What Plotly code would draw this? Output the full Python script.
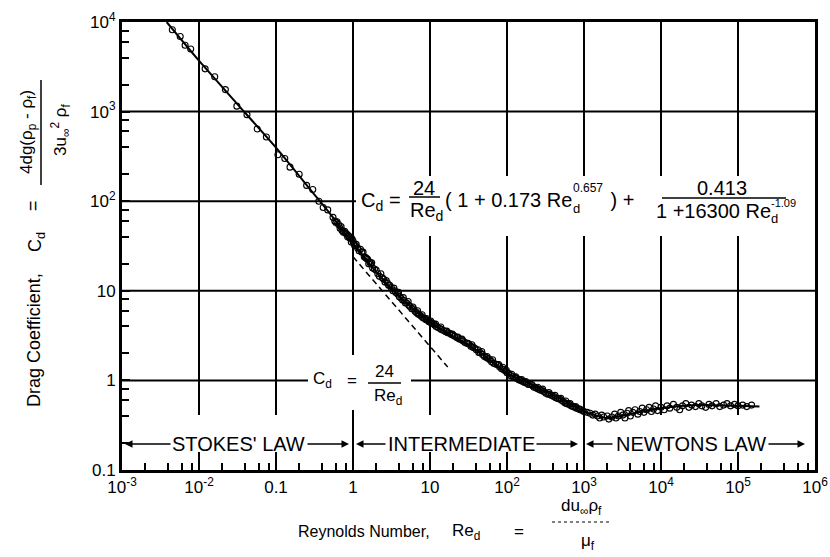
import plotly.graph_objects as go

# ---- correlation curve (Re_d, C_d) ----
curve_re = [0.0038, 0.01, 0.03, 0.1, 0.3, 0.5, 0.7, 1, 2, 3, 5, 10, 20, 30, 50,
            100, 200, 500, 1000, 2000, 4000, 10000, 30000, 100000, 190000]
curve_cd = [10000, 3700, 1270, 396, 125, 73, 50, 34, 16.3, 11.1, 7.2, 4.5, 3.1, 2.55, 1.9,
            1.2, 0.91, 0.62, 0.45, 0.38, 0.42, 0.49, 0.53, 0.52, 0.51]

# ---- Stokes' law line, C_d = 24 / Re_d ----
stokes_re = [1.0, 17.0]
stokes_cd = [24.0, 1.41]

# ---- experimental points ----
stokes_pts_re = [0.0045, 0.0057, 0.0066, 0.0078, 0.012, 0.016, 0.022, 0.031, 0.042, 0.057,
                 0.075, 0.106, 0.13, 0.152, 0.2, 0.25, 0.3, 0.36, 0.41, 0.47]
stokes_pts_cd = [8200, 6900, 5500, 5000, 3000, 2450, 1760, 1150, 925, 640,
                 520, 330, 300, 240, 200, 150, 135, 100, 85, 80]

inter_re_a = [0.55, 0.6, 0.65, 0.7, 0.75, 0.8, 0.85, 0.9, 0.95, 1.0, 1.05, 1.1, 1.2, 1.3, 1.4,
              1.5, 1.6, 1.7, 1.8, 2.0, 2.2, 2.4, 2.6, 2.8, 3.0, 3.3, 3.6, 4.0, 4.4, 4.8,
              5.3, 5.8, 6.4, 7.0, 7.7, 8.5, 9.3, 10, 11, 12, 13.5, 15, 17, 19, 21,
              24, 27, 30, 34, 38, 43, 48, 54, 60, 67, 75, 85, 95, 105, 120,
              135, 150, 170, 190, 215, 240, 270, 300, 340, 380, 430, 480, 540, 600, 680,
              760, 850, 950]
inter_cd_a = [66, 58, 55, 52, 45, 44, 40, 39, 35, 36, 32, 33, 28, 27, 24,
              23, 20, 20, 18, 17, 14.5, 14, 12.5, 12.2, 11.5, 10, 9.6, 8.6, 7.9, 7.3,
              6.9, 6.3, 5.9, 5.5, 5.2, 4.9, 4.7, 4.5, 4.3, 4.0, 3.8, 3.6, 3.4, 3.25, 3.1,
              2.9, 2.75, 2.6, 2.4, 2.3, 2.05, 1.95, 1.8, 1.7, 1.55, 1.5, 1.35, 1.28, 1.2, 1.1,
              1.05, 1.0, 0.95, 0.9, 0.87, 0.82, 0.78, 0.75, 0.7, 0.68, 0.64, 0.62, 0.58, 0.55, 0.52,
              0.5, 0.48, 0.46]

inter_re_b = [0.58, 0.68, 0.78, 0.88, 1.02, 1.15, 1.25, 1.45, 1.65, 1.9, 2.1, 2.5, 2.9, 3.15, 3.5,
              3.8, 4.2, 4.6, 5.0, 5.5, 6.1, 6.7, 7.3, 8.1, 8.9, 9.7, 10.5, 11.5, 12.7, 14,
              16, 18, 20, 22.5, 25.5, 28.5, 32, 36, 40, 45, 51, 57, 63, 71, 80,
              90, 100, 112, 127, 142, 160, 180, 200, 225, 255, 285, 320, 360, 405, 455,
              510, 570, 640, 720, 800, 900, 1000]
inter_cd_b = [60, 50, 46, 41, 34, 30, 29, 23.5, 21, 17.5, 15.5, 13.5, 11.5, 10.8, 10,
              9.2, 8.3, 7.8, 7.3, 6.7, 6.3, 5.7, 5.4, 5.0, 4.75, 4.5, 4.35, 4.15, 3.9, 3.7,
              3.5, 3.35, 3.2, 3.0, 2.85, 2.65, 2.55, 2.35, 2.2, 2.05, 1.85, 1.75, 1.62, 1.52, 1.42,
              1.32, 1.22, 1.13, 1.08, 1.02, 0.97, 0.93, 0.9, 0.84, 0.8, 0.77, 0.72, 0.7, 0.66, 0.63,
              0.6, 0.56, 0.54, 0.51, 0.49, 0.47, 0.45]

inter_re_c = [0.62, 0.72, 0.83, 0.97, 1.08, 1.35, 1.55, 1.75, 2.3, 2.7, 3.4, 3.9, 4.5, 5.2, 6.0,
              6.9, 7.9, 9.0, 10.2, 11.8, 13.8, 16.5, 19.5, 23, 26, 31, 35, 42, 47, 55,
              65, 78, 88, 98, 115, 130, 155, 175, 210, 250, 290, 350, 420, 500, 580,
              660, 780, 880]
inter_cd_c = [59, 47, 43, 38, 32, 27, 22.5, 20.5, 15.5, 13, 10.7, 9.6, 8.4, 7.6, 6.6,
              6.0, 5.4, 4.9, 4.6, 4.25, 3.95, 3.55, 3.3, 3.05, 2.9, 2.6, 2.5, 2.2, 2.1, 1.85,
              1.7, 1.5, 1.4, 1.3, 1.17, 1.1, 1.02, 0.97, 0.9, 0.84, 0.8, 0.73, 0.68, 0.63, 0.59,
              0.55, 0.51, 0.48]

newton_re = [1100, 1200, 1300, 1400, 1500, 1600, 1700, 1800, 2000, 2100, 2300, 2500, 2600, 2800,
             3000, 3200, 3400, 3600, 3800, 4000, 4300, 4600, 5000, 5300, 5700, 6000, 6500, 7000,
             7500, 8000, 8500, 9000, 10000, 11000, 12000, 13000, 14500, 16000, 17500, 19000,
             21000, 23000, 25000, 28000, 31000, 34000, 38000, 42000, 46000, 52000, 58000,
             65000, 72000, 80000, 90000, 100000, 115000, 130000, 150000]
newton_cd = [0.44, 0.43, 0.41, 0.42, 0.40, 0.38, 0.41, 0.39, 0.40, 0.37, 0.39, 0.42, 0.38, 0.40,
             0.44, 0.41, 0.38, 0.43, 0.46, 0.40, 0.44, 0.47, 0.42, 0.45, 0.49, 0.44, 0.47, 0.50,
             0.45, 0.48, 0.52, 0.46, 0.50, 0.47, 0.52, 0.49, 0.54, 0.50, 0.47, 0.52,
             0.55, 0.50, 0.53, 0.51, 0.55, 0.52, 0.50, 0.54, 0.52, 0.55, 0.51,
             0.53, 0.55, 0.52, 0.54, 0.52, 0.53, 0.51, 0.53]

# ---- axis ticks ----
x_major = [1e-3, 1e-2, 1e-1, 1, 10, 1e2, 1e3, 1e4, 1e5, 1e6]
x_labels = ["10<sup>-3</sup>", "10<sup>-2</sup>", "0.1", "1", "10", "10<sup>2</sup>",
            "10<sup>3</sup>", "10<sup>4</sup>", "10<sup>5</sup>", "10<sup>6</sup>"]
y_major = [0.1, 1, 10, 1e2, 1e3, 1e4]
y_labels = ["0.1", "1", "10", "10<sup>2</sup>", "10<sup>3</sup>", "10<sup>4</sup>"]

region_names = ["STOKES' LAW", "INTERMEDIATE", "NEWTONS LAW"]

FONT = "Arial, Liberation Sans, sans-serif"
NB = "\u00a0"

# plot-area geometry in pixels (used to place the free-standing text)
L, R, T, B = 122, 815, 22, 470


def px(x):
    return (x - L) / (R - L)


def py(y):
    return (B - y) / (B - T)


fig = go.Figure()

pts_re = stokes_pts_re + inter_re_a + inter_re_b + inter_re_c + newton_re
pts_cd = stokes_pts_cd + inter_cd_a + inter_cd_b + inter_cd_c + newton_cd
fig.add_trace(go.Scatter(x=pts_re, y=pts_cd, mode="markers",
                         marker=dict(symbol="circle-open", size=6, color="black",
                                     line=dict(width=1.1, color="black")),
                         hoverinfo="skip"))
fig.add_trace(go.Scatter(x=curve_re, y=curve_cd, mode="lines",
                         line=dict(color="black", width=2, shape="spline", smoothing=0.6)))
fig.add_trace(go.Scatter(x=stokes_re, y=stokes_cd, mode="lines",
                         line=dict(color="black", width=1.5, dash="6px,4px")))

shapes = []
# decade grid, drawn as shapes so the text panels can sit on top of it
for xv in x_major[1:-1]:
    shapes.append(dict(type="line", xref="x", yref="paper", x0=xv, x1=xv, y0=0, y1=1,
                       line=dict(color="black", width=2), layer="below"))
for yv in y_major[1:-1]:
    shapes.append(dict(type="line", xref="paper", yref="y", x0=0, x1=1, y0=yv, y1=yv,
                       line=dict(color="black", width=2), layer="below"))
# white panels behind the equations and the regime band
for x0, x1, y0, y1 in ((px(356), 1, py(236), py(176)),
                       (px(308), px(411), py(410), py(355)),
                       (0, 1, py(452), py(415))):
    shapes.append(dict(type="rect", xref="paper", yref="paper", x0=x0, x1=x1, y0=y0, y1=y1,
                       fillcolor="white", line=dict(width=0), layer="below"))
# regime dividers at Re = 1 and Re = 1000
for xv in (1, 1000):
    shapes.append(dict(type="line", xref="x", yref="paper", x0=xv, x1=xv, y0=py(453), y1=py(414),
                       line=dict(color="black", width=2), layer="below"))
# fraction bars
frac_bars = [(409, 440, 197), (662, 786, 198), (368, 401, 383)]
for x0, x1, yy in frac_bars:
    shapes.append(dict(type="line", xref="paper", yref="paper", x0=px(x0), x1=px(x1), y0=py(yy), y1=py(yy),
                       line=dict(color="black", width=1.5)))
shapes.append(dict(type="line", xref="paper", yref="paper", x0=px(41), x1=px(41), y0=py(185), y1=py(80),
                   line=dict(color="black", width=1.5)))
shapes.append(dict(type="line", xref="paper", yref="paper", x0=px(552), x1=px(612), y0=py(522), y1=py(522),
                   line=dict(color="black", width=1, dash="dot")))
fig.update_layout(shapes=shapes)

ann = []


def txt(x, y, s, size, xanchor="center", angle=0):
    ann.append(dict(x=px(x), y=py(y), xref="paper", yref="paper", text=s, showarrow=False,
                    xanchor=xanchor, yanchor="middle", textangle=angle,
                    font=dict(family=FONT, size=size, color="black")))


# main correlation
txt(372, 201, "C<sub>d</sub>", 20)
txt(395, 200, "=", 20)
txt(424, 188, "24", 20)
txt(426, 211, "Re<sub>d</sub>", 20)
txt(443, 200, "(" + NB + "1 + 0.173 Re", 20, xanchor="left")
txt(571, 208, "d", 13, xanchor="left")
txt(571, 188, "0.657", 12, xanchor="left")
txt(603, 200, NB + ")" + NB + "+", 20, xanchor="left")
txt(722, 188, "0.413", 20)
txt(654, 211, "1 +16300 Re", 20, xanchor="left")
txt(769, 218, "d", 13, xanchor="left")
txt(769, 203, "-1.09", 11, xanchor="left")

# Stokes' law label
txt(322, 380, "C<sub>d</sub>", 17)
txt(352, 380, "=", 17)
txt(384, 371, "24", 17)
txt(388, 397, "Re<sub>d</sub>", 17)

# regime band
band_y = 444
for name, cx in zip(region_names, (238, 461, 691)):
    txt(cx, band_y, name, 20)
for tip, tail in ((125, 172), (349, 306), (356, 387), (578, 535), (586, 614), (805, 767)):
    ann.append(dict(x=px(tip), y=py(band_y), xref="paper", yref="paper", text="",
                    showarrow=True, ax=tail - tip, ay=0, arrowhead=2, arrowsize=1,
                    arrowwidth=1.5, arrowcolor="black"))

# axis titles
txt(364, 531, "Reynolds Number,", 16)
txt(466, 532, "Re<sub>d</sub>", 17)
txt(519, 531, "=", 17)
txt(581, 507, "du<sub>\u221e</sub>\u03c1<sub>f</sub>", 17)
txt(588, 542, "\u03bc<sub>f</sub>", 17)

txt(34, 340, "Drag Coefficient,", 18, angle=-90)
txt(36, 242, "C<sub>d</sub>", 18, angle=-90)
txt(33, 206, "=", 18, angle=-90)
txt(28, 132, "4dg(\u03c1<sub>p</sub> - \u03c1<sub>f</sub>)", 17, angle=-90)
txt(60, 130, "3u<sub>\u221e</sub><sup>2</sup> \u03c1<sub>f</sub>", 17, angle=-90)

fig.update_layout(annotations=ann)

x_minor = [m * 10.0 ** k for k in range(-3, 6) for m in (2, 4, 6, 8)]
y_minor = [m * 10.0 ** k for k in range(-1, 4) for m in (2, 4, 6, 8)]

axis_common = dict(type="log", showgrid=False,
                   ticks="inside", ticklen=8, tickwidth=2, tickcolor="black",
                   showline=True, linecolor="black", linewidth=3, mirror=True,
                   zeroline=False, tickfont=dict(family=FONT, size=17, color="black"))

fig.update_xaxes(range=[-3, 6], tickvals=x_major, ticktext=x_labels,
                 minor=dict(tickvals=x_minor, ticks="inside", ticklen=7, tickwidth=1.5,
                            tickcolor="black", showgrid=False),
                 **axis_common)
fig.update_yaxes(range=[-1, 4], tickvals=y_major, ticktext=y_labels,
                 minor=dict(tickvals=y_minor, ticks="inside", ticklen=7, tickwidth=1.5,
                            tickcolor="black", showgrid=False),
                 **axis_common)

fig.update_layout(template="none", width=830, height=557,
                  margin=dict(l=L, r=830 - R, t=T, b=557 - B),
                  plot_bgcolor="white", paper_bgcolor="white", showlegend=False,
                  font=dict(family=FONT, color="black"))

fig.write_html("out.html")
